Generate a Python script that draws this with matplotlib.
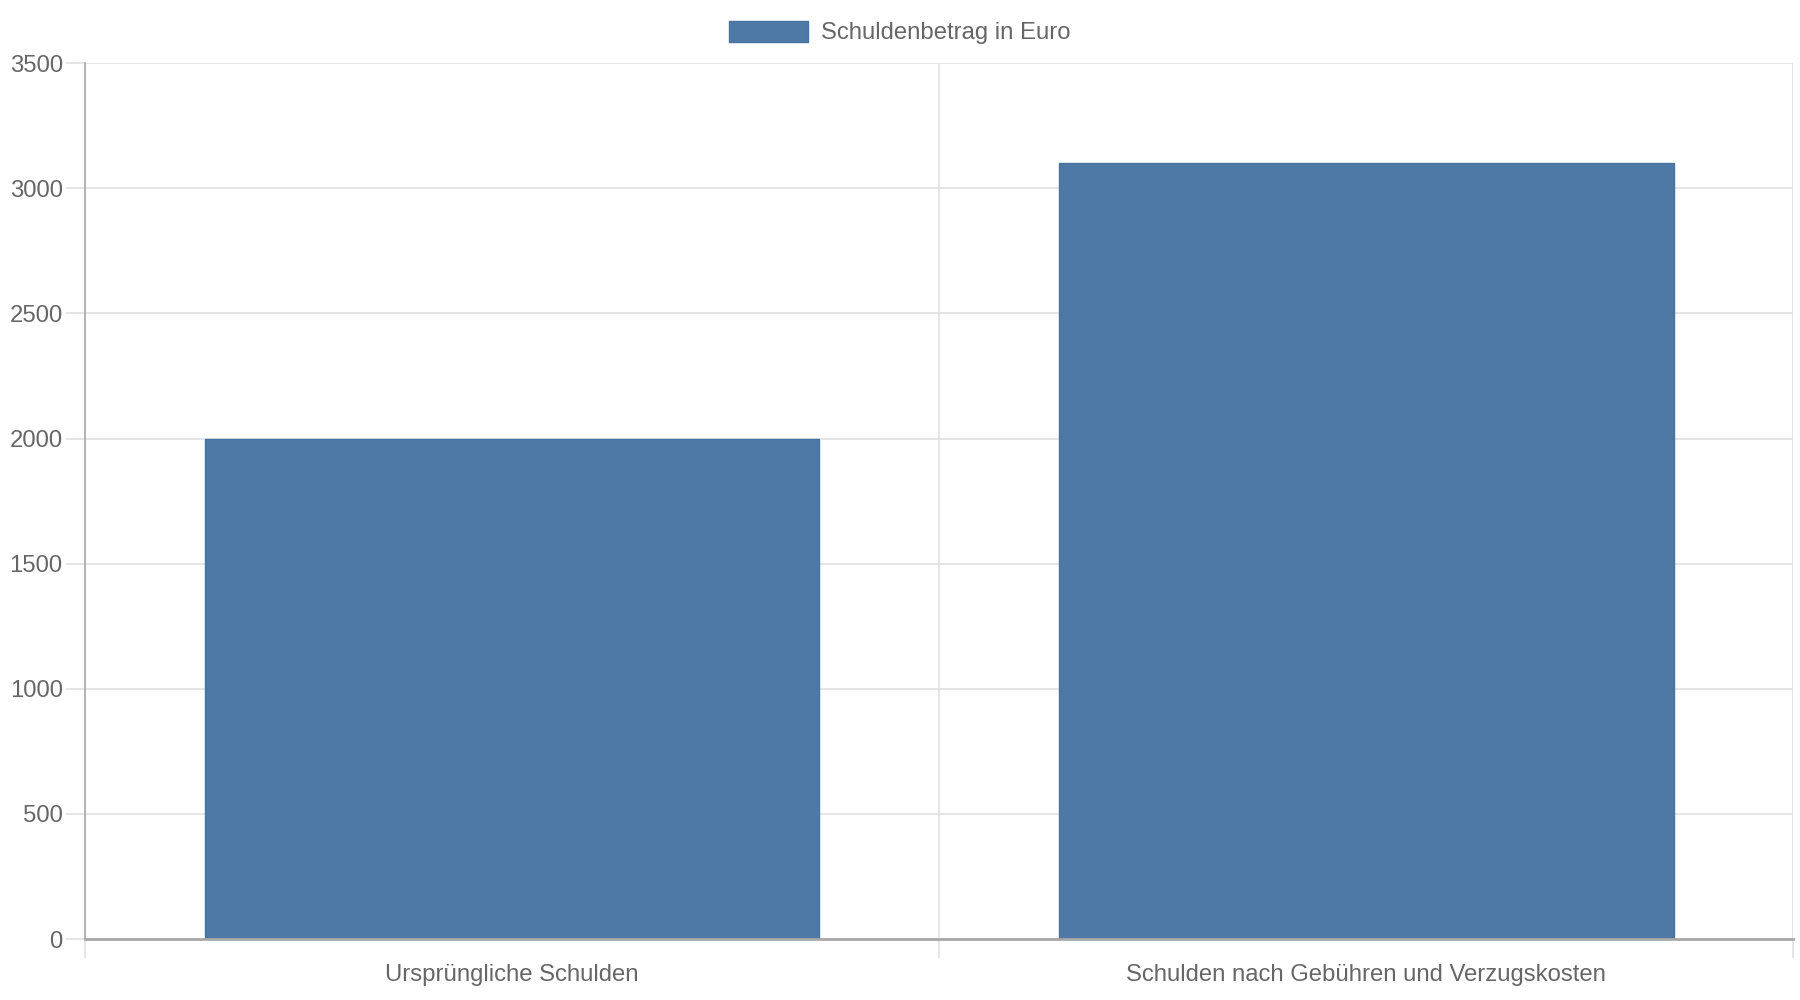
import matplotlib.pyplot as plt
from matplotlib.patches import Rectangle
from matplotlib.ticker import FixedLocator

categories = ["Ursprüngliche Schulden", "Schulden nach Gebühren und Verzugskosten"]
values = [2000, 3100]
series_name = "Schuldenbetrag in Euro"
y_ticks = [0, 500, 1000, 1500, 2000, 2500, 3000, 3500]

bar_color = "#4e79a7"
text_color = "#666666"
grid_color = "#e0e0e0"
axis_color = "#a8a8a8"
fs = 17.2

plt.rcParams["font.family"] = ["Liberation Sans", "DejaVu Sans"]

fig = plt.figure(figsize=(18, 10), dpi=100)
ax = fig.add_axes([0.0472, 0.0609, 0.9490, 0.8760])

x = list(range(len(categories)))
ax.bar(x, values, width=0.72, color=bar_color, edgecolor="#4a72a0",
       linewidth=1, zorder=3)

ax.set_xlim(-0.5, len(categories) - 0.5)
ax.set_ylim(0, 3500)
ax.set_yticks(y_ticks)
ax.set_xticks(x)
ax.set_xticklabels(categories)
ax.xaxis.set_minor_locator(FixedLocator([i - 0.5 for i in range(len(categories) + 1)]))

ax.grid(axis="y", which="major", color=grid_color, linewidth=1.2, zorder=0)
ax.grid(axis="x", which="minor", color=grid_color, linewidth=1.2, zorder=0)

ax.tick_params(axis="y", which="major", length=14, width=1.2, color=grid_color,
               labelsize=fs, labelcolor=text_color, pad=2)
ax.tick_params(axis="x", which="major", length=0, labelsize=fs,
               labelcolor=text_color, pad=18)
ax.tick_params(axis="x", which="minor", length=14, width=1.2, color=grid_color)

for side in ["top", "right"]:
    ax.spines[side].set_visible(False)
ax.spines["left"].set_color(axis_color)
ax.spines["left"].set_linewidth(1.2)
ax.spines["bottom"].set_color(axis_color)
ax.spines["bottom"].set_linewidth(2)
ax.spines["left"].set_zorder(4)
ax.spines["bottom"].set_zorder(4)

handle = Rectangle((0, 0), 1, 1, facecolor=bar_color, edgecolor="#4a72a0", linewidth=1)
leg = fig.legend([handle], [series_name], loc="center", bbox_to_anchor=(0.5, 0.9675),
                 frameon=False, fontsize=fs, handlelength=3.3, handleheight=1.0,
                 handletextpad=0.55, borderpad=0)
for t in leg.get_texts():
    t.set_color(text_color)

fig.savefig("out.png", dpi=100)
